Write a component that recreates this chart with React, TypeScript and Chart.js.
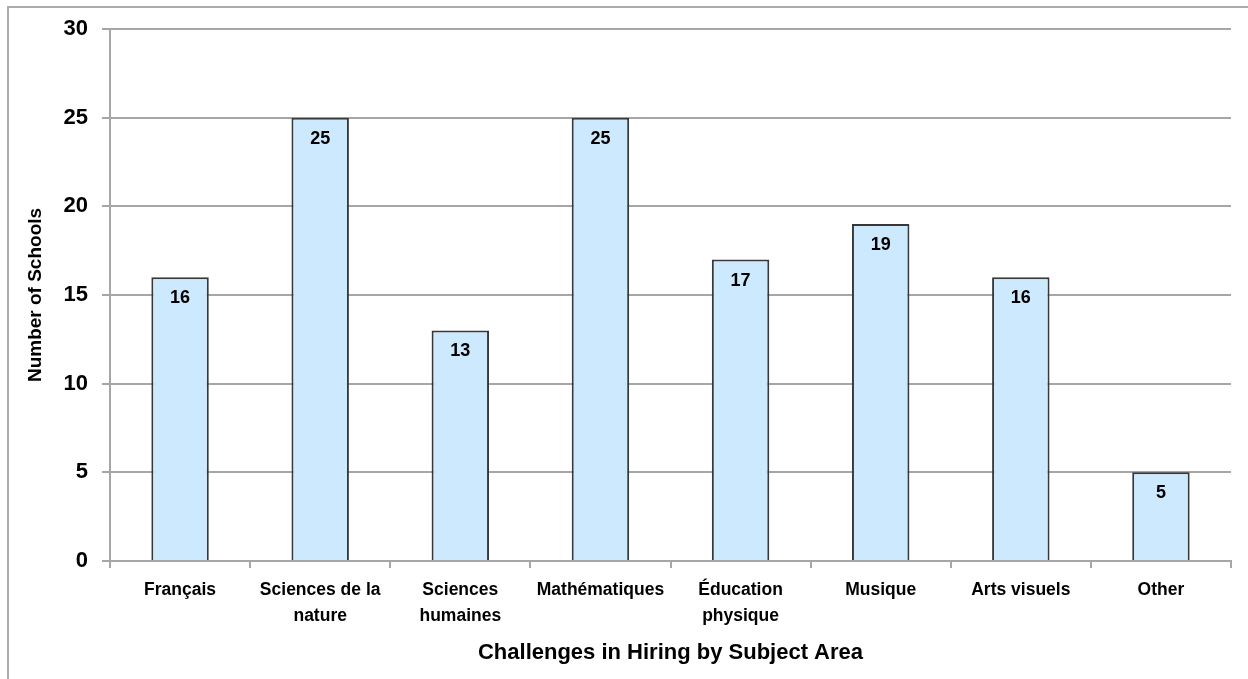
import React, { useEffect, useRef } from "react";
import { Chart, registerables } from "chart.js";

Chart.register(...registerables);

const categories: (string | string[])[] = [
  "Français",
  ["Sciences de la", "nature"],
  ["Sciences", "humaines"],
  "Mathématiques",
  ["Éducation", "physique"],
  "Musique",
  "Arts visuels",
  "Other",
];
const schoolCounts: number[] = [16, 25, 13, 25, 17, 19, 16, 5];
const yTickMin = 0;
const yTickMax = 30;
const yTickStep = 5;
const xTitle = "Challenges in Hiring by Subject Area";
const yTitle = "Number of Schools";

const FONT = '"Liberation Sans", Arial, sans-serif';
const GRID = "#a6a6a6";

const framePlugin = {
  id: "frame",
  beforeDraw(chart: any) {
    const ctx = chart.ctx;
    ctx.save();
    ctx.strokeStyle = "#acacac";
    ctx.lineWidth = 2;
    ctx.beginPath();
    ctx.moveTo(8, chart.height);
    ctx.lineTo(8, 7);
    ctx.lineTo(chart.width, 7);
    ctx.stroke();
    ctx.restore();
  },
};

const valueLabelPlugin = {
  id: "valueLabels",
  afterDatasetsDraw(chart: any) {
    const ctx = chart.ctx;
    const meta = chart.getDatasetMeta(0);
    const data = chart.data.datasets[0].data;
    ctx.save();
    ctx.font = `bold 18px ${FONT}`;
    ctx.fillStyle = "#000";
    ctx.textAlign = "center";
    ctx.textBaseline = "middle";
    meta.data.forEach((bar: any, i: number) => {
      ctx.fillText(String(data[i]), bar.x, bar.y + 21);
    });
    ctx.restore();
  },
};

export default function App() {
  const canvasRef = useRef<HTMLCanvasElement | null>(null);

  useEffect(() => {
    if (!canvasRef.current) return;
    const chart = new Chart(canvasRef.current, {
      type: "bar",
      data: {
        labels: categories,
        datasets: [
          {
            data: schoolCounts,
            backgroundColor: "#cce9fd",
            borderColor: "#383838",
            borderWidth: 2,
            categoryPercentage: 1,
            barPercentage: 0.41,
          },
        ],
      },
      options: {
        responsive: false,
        animation: false,
        layout: { padding: { top: 29, right: 17, bottom: 0, left: 0 } },
        plugins: {
          legend: { display: false },
          tooltip: { enabled: false },
        },
        scales: {
          x: {
            offset: true,
            grid: {
              offset: true,
              drawOnChartArea: false,
              drawTicks: true,
              tickLength: 7,
              color: GRID,
              lineWidth: 2,
            },
            border: { display: true, color: GRID, width: 2 },
            ticks: {
              font: { family: FONT, size: 17.5, weight: "bold", lineHeight: 1.5 },
              color: "#000",
              padding: 9,
              maxRotation: 0,
              autoSkip: false,
            },
            title: {
              display: true,
              text: xTitle,
              font: { family: FONT, size: 22, weight: "bold" },
              color: "#000",
              padding: { top: 0, bottom: 13 },
            },
            afterFit(scale: any) {
              scale.height = 118;
            },
          },
          y: {
            min: yTickMin,
            max: yTickMax,
            ticks: {
              stepSize: yTickStep,
              font: { family: FONT, size: 22, weight: "bold" },
              color: "#000",
              padding: 14,
            },
            grid: {
              color: GRID,
              lineWidth: 2,
              drawTicks: true,
              tickLength: 8,
            },
            border: { display: true, color: GRID, width: 2 },
            title: {
              display: true,
              text: yTitle,
              font: { family: FONT, size: 19, weight: "bold" },
              color: "#000",
              padding: { top: 24, bottom: 0 },
            },
            afterFit(scale: any) {
              scale.width = 110;
            },
          },
        },
      },
      plugins: [framePlugin, valueLabelPlugin],
    });
    return () => chart.destroy();
  }, []);

  return (
    <div
      style={{
        position: "fixed",
        left: 0,
        top: 0,
        width: 1248,
        height: 679,
        background: "#fff",
      }}
    >
      <canvas ref={canvasRef} width={1248} height={679} />
    </div>
  );
}
